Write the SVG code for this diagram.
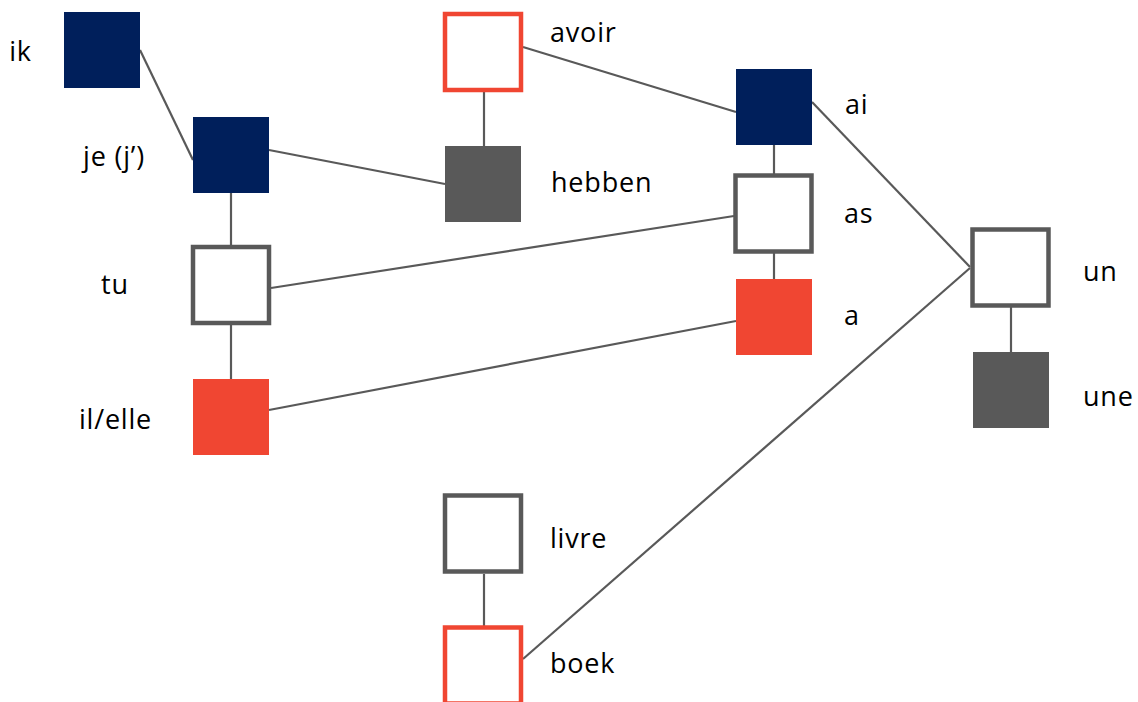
<svg xmlns="http://www.w3.org/2000/svg" width="1138" height="702" viewBox="0 0 1138 702">
<style>
.navy{fill:#001F5B}
.red{fill:#F04632}
.dark{fill:#595959}
.out{fill:#FFFFFF;stroke:#595959;stroke-width:4.5}
.outred{fill:#FFFFFF;stroke:#F04632;stroke-width:4.5}
.conn line{stroke:#595959;stroke-width:2.2;fill:none}
text{font-family:"Open Sans","Noto Sans","Liberation Sans",sans-serif;font-size:27px;fill:#000;letter-spacing:0.8px}
.c{text-anchor:middle}
</style>
<rect width="1138" height="702" fill="#FFFFFF"/>
<g id="connectors" class="conn">
<line x1="140" y1="50" x2="193" y2="160"/>
<line x1="269" y1="150" x2="445" y2="184"/>
<line x1="231" y1="193" x2="231" y2="247"/>
<line x1="231" y1="323" x2="231" y2="379"/>
<line x1="271" y1="288" x2="734" y2="216"/>
<line x1="269" y1="410" x2="736" y2="321"/>
<line x1="523" y1="47" x2="736" y2="112"/>
<line x1="484" y1="92" x2="484" y2="146"/>
<line x1="774" y1="145" x2="774" y2="174"/>
<line x1="774" y1="253" x2="774" y2="279"/>
<line x1="812" y1="102" x2="970" y2="267"/>
<line x1="523" y1="659" x2="970" y2="268"/>
<line x1="1011" y1="307" x2="1011" y2="352"/>
<line x1="484" y1="574" x2="484" y2="626"/>
</g>
<g id="ik"><rect class="navy" x="64" y="12" width="76" height="76"/><text class="c" x="20.5" y="61">ik</text></g>
<g id="je"><rect class="navy" x="193" y="117" width="76" height="76"/><text class="c" x="114" y="166">je (j’)</text></g>
<g id="tu"><rect class="out" x="193" y="247" width="76" height="76"/><text class="c" x="115" y="294">tu</text></g>
<g id="il_elle"><rect class="red" x="193" y="379" width="76" height="76"/><text class="c" x="115.5" y="429">il/elle</text></g>
<g id="avoir"><rect class="outred" x="445" y="14" width="76" height="76"/><text x="550" y="42">avoir</text></g>
<g id="hebben"><rect class="dark" x="445" y="146" width="76" height="76"/><text x="551" y="192">hebben</text></g>
<g id="ai"><rect class="navy" x="736" y="69" width="76" height="76"/><text x="845" y="114">ai</text></g>
<g id="as"><rect class="out" x="735.5" y="175.5" width="76" height="76"/><text x="844" y="223">as</text></g>
<g id="a"><rect class="red" x="736" y="279" width="76" height="76"/><text x="844" y="325">a</text></g>
<g id="un"><rect class="out" x="972.5" y="229.5" width="76" height="76"/><text x="1083" y="281">un</text></g>
<g id="une"><rect class="dark" x="973" y="352" width="76" height="76"/><text x="1083" y="406">une</text></g>
<g id="livre"><rect class="out" x="445" y="495.5" width="76" height="76"/><text x="550" y="548">livre</text></g>
<g id="boek"><rect class="outred" x="445" y="627.5" width="76" height="76"/><text x="550" y="673">boek</text></g>
</svg>
